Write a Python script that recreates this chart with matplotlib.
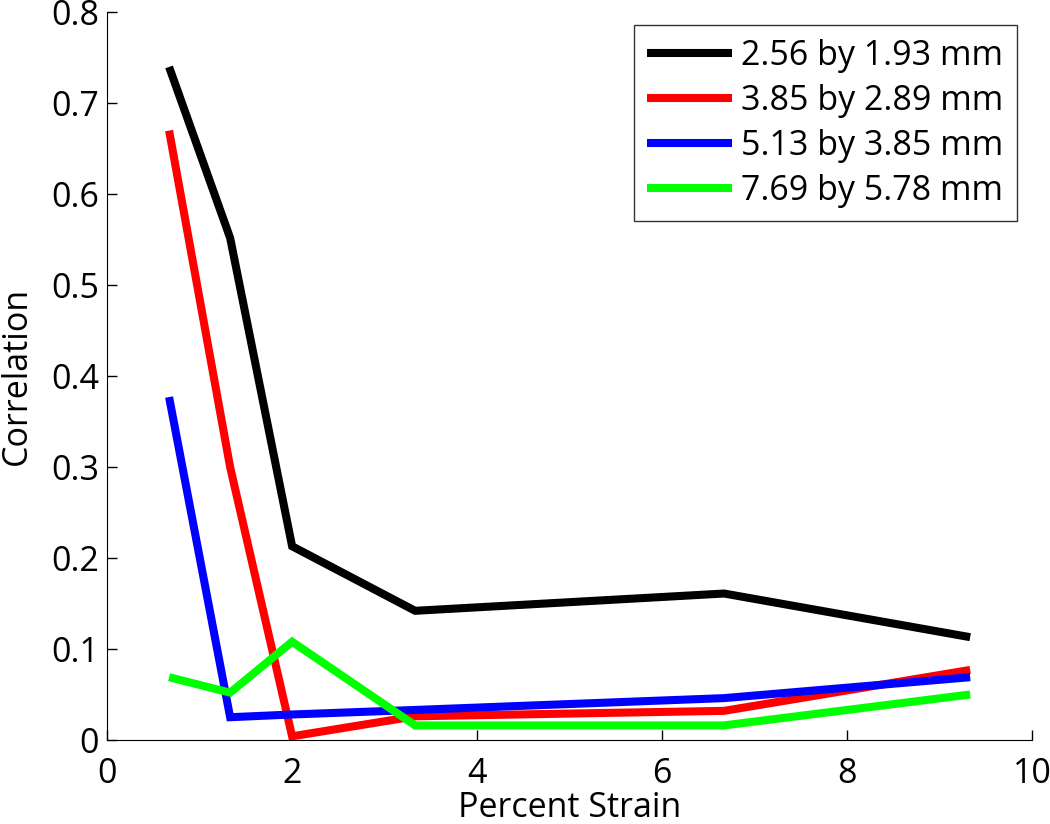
import matplotlib
matplotlib.use("Agg")
import matplotlib.pyplot as plt

strain = [0.67, 1.33, 2.0, 3.33, 6.67, 9.33]
labels = ["2.56 by 1.93 mm", "3.85 by 2.89 mm", "5.13 by 3.85 mm", "7.69 by 5.78 mm"]
black = [0.740, 0.552, 0.213, 0.142, 0.161, 0.113]
red = [0.670, 0.300, 0.004, 0.026, 0.032, 0.077]
blue = [0.377, 0.025, 0.028, 0.033, 0.046, 0.069]
green = [0.069, 0.052, 0.108, 0.016, 0.016, 0.050]
series = [black, red, blue, green]
colors = ["#000000", "#ff0000", "#0000ff", "#00ff00"]
xticks = [0, 2, 4, 6, 8, 10]
yticks = [0, 0.1, 0.2, 0.3, 0.4, 0.5, 0.6, 0.7, 0.8]

plt.rcParams['font.family'] = ['Open Sans', 'DejaVu Sans']
fs = 24.5
fig = plt.figure(figsize=(10.5, 8.24), dpi=100)
ax = fig.add_axes([0.102, 0.102, 0.881, 0.883])
for vals, c, lab in zip(series, colors, labels):
    ax.plot(strain, vals, color=c, lw=5.8, label=lab, solid_joinstyle='miter', solid_capstyle='butt')
ax.set_xlim(0, 10)
ax.set_ylim(0, 0.8)
ax.set_xticks(xticks)
ax.set_yticks(yticks)
ax.set_xticklabels([str(t) for t in xticks])
ax.set_yticklabels(["0"] + [f"{t:.1f}" for t in yticks[1:]])
ax.spines['top'].set_visible(False)
ax.spines['right'].set_visible(False)
ax.tick_params(direction='in', length=7, width=1, labelsize=fs)
ax.tick_params(axis='x', pad=12)
ax.tick_params(axis='y', pad=6)
ax.set_xlabel("Percent Strain", fontsize=fs, labelpad=0)
ax.set_ylabel("Correlation", fontsize=fs, labelpad=12)
leg = ax.legend(loc='upper right', fontsize=fs, frameon=True, fancybox=False,
                edgecolor='black', handlelength=2.5, handletextpad=0.27,
                labelspacing=0.32, borderpad=0.4, borderaxespad=0,
                bbox_to_anchor=(0.984, 0.982))
leg.get_frame().set_linewidth(1.0)
fig.savefig("out.png", dpi=100)
